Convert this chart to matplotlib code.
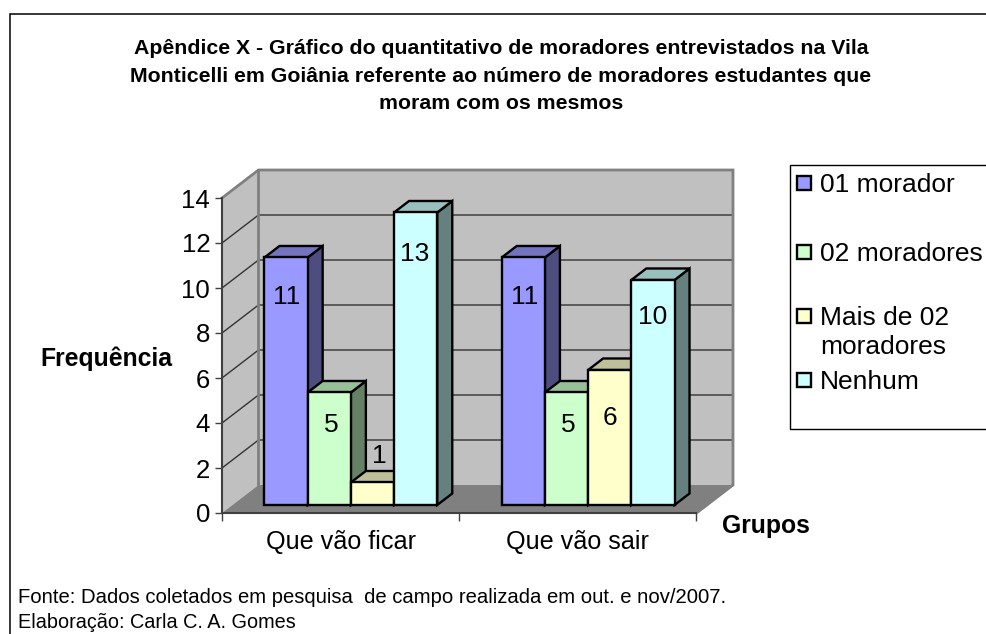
import matplotlib
matplotlib.use("Agg")
import matplotlib.pyplot as plt
from matplotlib.lines import Line2D
from matplotlib.patches import Polygon, Rectangle

plt.rcParams['font.family'] = ['Liberation Sans', 'DejaVu Sans']

title = ("Apêndice X - Gráfico do quantitativo de moradores entrevistados na Vila\n"
         "Monticelli em Goiânia referente ao número de moradores estudantes que\n"
         "moram com os mesmos")
groups = ["Que vão ficar", "Que vão sair"]
series = ["01 morador", "02 moradores", "Mais de 02\nmoradores", "Nenhum"]
values = [[11, 11], [5, 5], [1, 6], [13, 10]]
yticks = [0, 2, 4, 6, 8, 10, 12, 14]
footer = ["Fonte: Dados coletados em pesquisa  de campo realizada em out. e nov/2007.",
          "Elaboração: Carla C. A. Gomes"]

front = ["#9999FF", "#CCFFCC", "#FFFFCC", "#CCFFFF"]
top = ["#7373BF", "#99BF99", "#BFBF99", "#99BFBF"]
side = ["#4D4D80", "#668066", "#808066", "#668080"]

W, H = 987, 634
fig = plt.figure(figsize=(W / 100, H / 100), dpi=100, facecolor="white")

def fx(px):
    return px / W

def fy(py):
    return 1 - py / H

# page frame: only top and left edges are in the picture
fig.add_artist(Line2D([fx(10), fx(10), 1], [0, fy(14), fy(14)], transform=fig.transFigure,
                      color="black", lw=1.1, solid_joinstyle="miter"))

ax = fig.add_axes([fx(222), fy(513), (696.5 - 222) / W, (513 - 198) / H])
ax.set_xlim(0, 2)
ax.set_ylim(0, 14)
ax.patch.set_visible(False)
for s in ax.spines.values():
    s.set_visible(False)

DX = 36.5 / 237.25  # data x per unit of depth
DY = 28 / 22.5      # data y per unit of depth

def P(x, y, d):
    return (x + d * DX, y + d * DY)

def poly(pts, **kw):
    ax.add_patch(Polygon(pts, closed=True, clip_on=False, **kw))

# walls and floor
poly([P(0, 0, 0), P(0, 14, 0), P(0, 14, 1), P(0, 0, 1)], fc="#C0C0C0", ec="none", zorder=1)
poly([P(0, 0, 1), P(0, 14, 1), P(2, 14, 1), P(2, 0, 1)], fc="#C0C0C0", ec="none", zorder=1)
poly([P(0, 0, 0), P(2, 0, 0), P(2, 0, 1), P(0, 0, 1)], fc="#808080", ec="none", zorder=2)

for v in yticks[1:-1]:
    ax.plot(*zip(P(0, v, 0), P(0, v, 1), P(2, v, 1)), color="#333333", lw=1.0,
            clip_on=False, zorder=1.5, solid_joinstyle="miter")
ax.plot(*zip(P(0, 14, 0), P(0, 14, 1), P(2, 14, 1), P(2, 0, 1), P(2, 0, 0)),
        color="#808080", lw=2.0, clip_on=False, zorder=1.5, solid_joinstyle="miter")
ax.plot(*zip(P(0, 0, 1), P(0, 14, 1)), color="#808080", lw=2.0, clip_on=False, zorder=1.5)

# axes lines
ax.plot([0, 0], [0, 14], color="#404040", lw=1.5, clip_on=False, zorder=3)
ax.plot([0, 2], [0, 0], color="#404040", lw=1.5, clip_on=False, zorder=3)
ax.set_xticks([0, 1, 2])
ax.set_xticklabels([])
ax.set_yticks(yticks)
ax.set_yticklabels([str(v) for v in yticks], fontsize=18.5, color="black")
ax.tick_params(axis="y", length=5, width=1, color="#404040", pad=3.5)
ax.tick_params(axis="x", length=6, width=1, color="#404040", direction="out")
for i, g in enumerate(groups):
    ax.text(i + 0.5, -1.28, g, ha="center", va="center", fontsize=18.1, color="black")

# bars
d0, d1 = 0.286, 0.697
bw = 43.2 / 237.25
gap = 0.135
edge = dict(ec="black", lw=1.7, joinstyle="miter")
label_drop = [[40, 40], [33, 33], [-26, 48], [42, 37]]
label_shift = [[1, 1], [2, 2], [7, 0], [-1, 0]]
z = 4
for g in range(2):
    for s in range(4):
        v = values[s][g]
        x0 = g + gap + s * bw
        x1 = x0 + bw
        poly([P(x1, 0, d0), P(x1, v, d0), P(x1, v, d1), P(x1, 0, d1)], fc=side[s], zorder=z, **edge)
        poly([P(x0, v, d0), P(x1, v, d0), P(x1, v, d1), P(x0, v, d1)], fc=top[s], zorder=z, **edge)
        poly([P(x0, 0, d0), P(x1, 0, d0), P(x1, v, d0), P(x0, v, d0)], fc=front[s], zorder=z + 0.1, **edge)
        z += 1
z0 = z
for g in range(2):
    for s in range(4):
        v = values[s][g]
        x0 = g + gap + s * bw
        ax.annotate(str(v), xy=P(x0 + bw / 2, v, d0),
                    xytext=(label_shift[s][g] * 0.72, -label_drop[s][g] * 0.72),
                    textcoords="offset points", ha="center", va="center",
                    fontsize=19, color="black", zorder=z0 + 1, annotation_clip=False)

# legend
fig.add_artist(Rectangle((fx(790), fy(429)), 197.5 / W, (429 - 165) / H, transform=fig.transFigure,
                         fc="white", ec="black", lw=1.0))
leg_y = [183, 252, 316, 380]
text_y = [185, 254, 332.5, 382]
for s, name in enumerate(series):
    fig.add_artist(Rectangle((fx(797), fy(leg_y[s] + 7)), 14 / W, 14 / H, transform=fig.transFigure,
                             fc=front[s], ec="black", lw=1.7))
    fig.text(fx(820), fy(text_y[s]), name, ha="left", va="center", fontsize=19,
             linespacing=1.3, color="black")

# titles
fig.text(fx(501), fy(76), title, ha="center", va="center", fontsize=15.3,
         fontweight="bold", linespacing=1.56, color="black")
fig.text(fx(106), fy(359), "Frequência", ha="center", va="center", fontsize=17.8,
         fontweight="bold", color="black")
fig.text(fx(766), fy(526), "Grupos", ha="center", va="center", fontsize=17.8,
         fontweight="bold", color="black")
fig.text(fx(18), fy(597.5), footer[0], ha="left", va="center", fontsize=14.55, color="black")
fig.text(fx(18), fy(622.5), footer[1], ha="left", va="center", fontsize=14.3, color="black")

fig.savefig("out.png", dpi=100, facecolor="white")
